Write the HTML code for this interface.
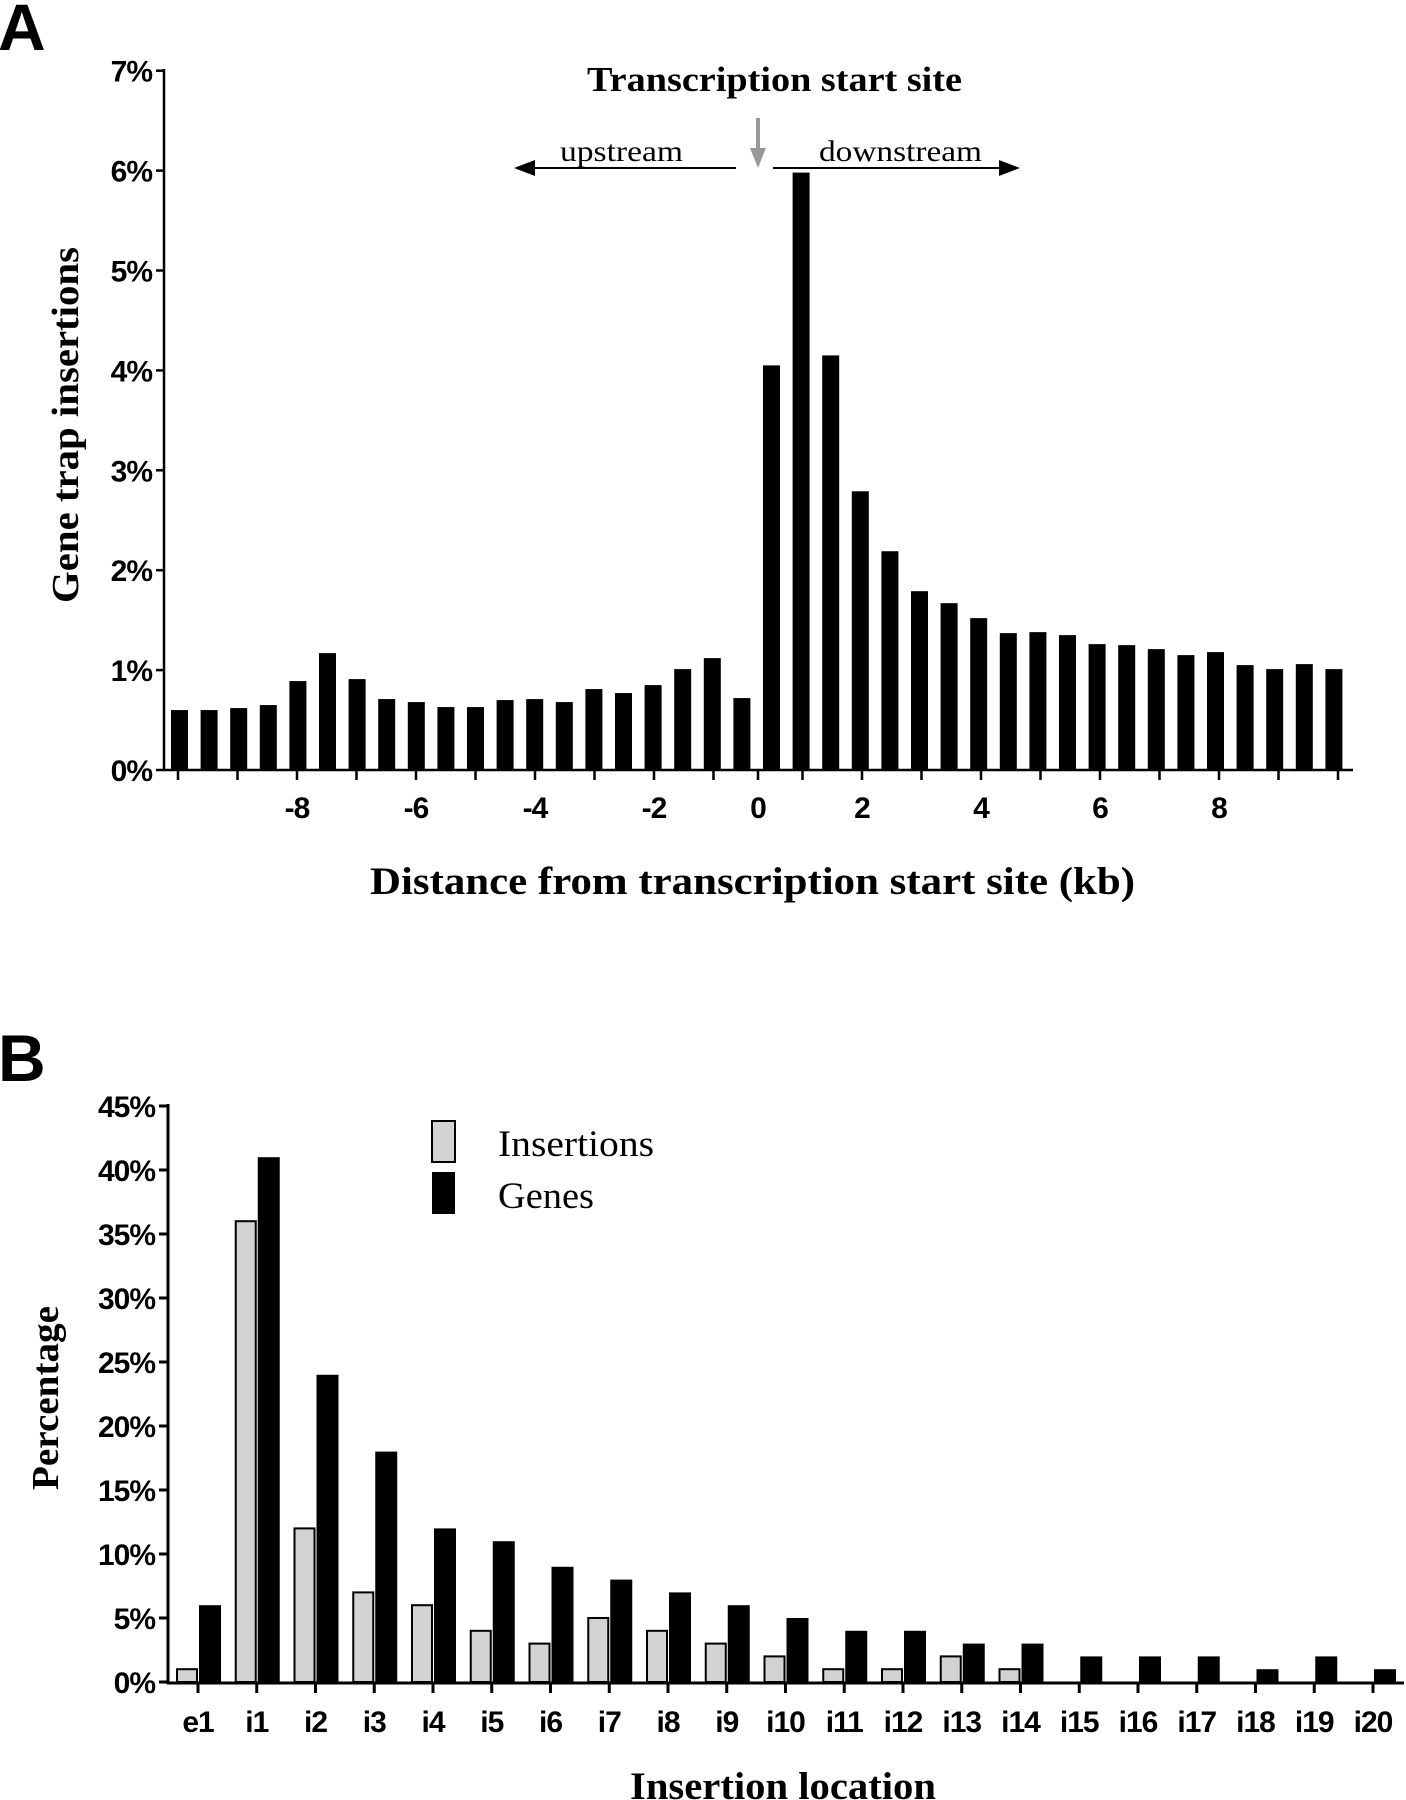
<!DOCTYPE html>
<html><head><meta charset="utf-8"><style>
html,body{margin:0;padding:0;background:#fff;}
svg{display:block;}
.tk{font-family:"Liberation Sans",sans-serif;font-weight:bold;font-size:30px;letter-spacing:-1px;}
.ser{font-family:"Liberation Serif",serif;}
</style></head><body>
<svg id="svg" width="1406" height="1800" viewBox="0 0 1406 1800">
<text x="-2" y="50" font-family="Liberation Sans,sans-serif" font-weight="bold" font-size="66">A</text>
<text x="-2" y="1081" font-family="Liberation Sans,sans-serif" font-weight="bold" font-size="66">B</text>
<g id="chartA"></g>
<g id="chartB"></g>
<text class="ser" x="587" y="91" textLength="375" lengthAdjust="spacingAndGlyphs" font-weight="bold" font-size="35">Transcription start site</text>
<text class="ser" x="560" y="161" textLength="123" lengthAdjust="spacingAndGlyphs" font-size="30">upstream</text>
<text class="ser" x="819" y="161" textLength="163" lengthAdjust="spacingAndGlyphs" font-size="30">downstream</text>
<g><line x1="736" y1="168" x2="530" y2="168" stroke="#000" stroke-width="2"/><polygon points="514,168 535,160 535,176" fill="#000"/></g>
<g><line x1="773" y1="168" x2="1000" y2="168" stroke="#000" stroke-width="2"/><polygon points="1020,168 999,160 999,176" fill="#000"/></g>
<g><line x1="758" y1="118" x2="758" y2="152" stroke="#999" stroke-width="4"/><polygon points="750,148 766,148 758,168" fill="#999"/></g>
<text class="ser" transform="translate(78,425) rotate(-90)" x="-178" textLength="356" lengthAdjust="spacingAndGlyphs" font-weight="bold" font-size="38">Gene trap insertions</text>
<text class="ser" x="370" y="894" textLength="765" lengthAdjust="spacingAndGlyphs" font-weight="bold" font-size="39">Distance from transcription start site (kb)</text>
<text class="ser" transform="translate(58,1398) rotate(-90)" x="-92" textLength="184" lengthAdjust="spacingAndGlyphs" font-weight="bold" font-size="38">Percentage</text>
<text class="ser" x="630" y="1799" textLength="306" lengthAdjust="spacingAndGlyphs" font-weight="bold" font-size="39">Insertion location</text>
<g>
<rect x="432" y="1121" width="23" height="41" fill="#d3d3d3" stroke="#000" stroke-width="2"/>
<rect x="432" y="1172" width="23" height="42" fill="#000"/>
<text class="ser" x="498" y="1156" textLength="156" lengthAdjust="spacingAndGlyphs" font-size="37">Insertions</text>
<text class="ser" x="498" y="1208" textLength="96" lengthAdjust="spacingAndGlyphs" font-size="37">Genes</text>
</g>
</svg>
<script>
const aValues=[0.6,0.6,0.62,0.65,0.89,1.17,0.91,0.71,0.68,0.63,0.63,0.70,0.71,0.68,0.81,0.77,0.85,1.01,1.12,0.72,4.05,5.98,4.15,2.79,2.19,1.79,1.67,1.52,1.37,1.38,1.35,1.26,1.25,1.21,1.15,1.18,1.05,1.01,1.06,1.01];
const aYTicks=[0,1,2,3,4,5,6,7];
const aXTicks=[-10,-9,-8,-7,-6,-5,-4,-3,-2,-1,0,1,2,3,4,5,6,7,8,9,10];
const aXLabels=[-8,-6,-4,-2,0,2,4,6,8];
const bCats=["e1","i1","i2","i3","i4","i5","i6","i7","i8","i9","i10","i11","i12","i13","i14","i15","i16","i17","i18","i19","i20"];
const bInsertions=[1,36,12,7,6,4,3,5,4,3,2,1,1,2,1,0,0,0,0,0,0];
const bGenes=[6,41,24,18,12,11,9,8,7,6,5,4,4,3,3,2,2,2,1,2,1];
const bYTicks=[0,5,10,15,20,25,30,35,40,45];
const NS="http://www.w3.org/2000/svg";
function mk(parent,tag,attrs){const e=document.createElementNS(NS,tag);for(const k in attrs)e.setAttribute(k,attrs[k]);parent.appendChild(e);return e;}
const gA=document.getElementById('chartA');
const ayA=v=>770-v*99.9;
const bxA=i=>179.5+i*29.6;
const kxA=k=>k===0?758:758+Math.sign(k)*(59.5*Math.abs(k)-15);
aValues.forEach((v,i)=>{const r=mk(gA,'rect',{x:bxA(i)-8.5,y:ayA(v),width:17,height:770-ayA(v),fill:'#000'});

});
mk(gA,'line',{x1:164,y1:69,x2:164,y2:771,stroke:'#000','stroke-width':2.5});
mk(gA,'line',{x1:163,y1:770,x2:1353,y2:770,stroke:'#000','stroke-width':2.5});
aYTicks.forEach(t=>{mk(gA,'line',{x1:156,y1:ayA(t),x2:164,y2:ayA(t),stroke:'#000','stroke-width':2.5});
const tx=mk(gA,'text',{x:152,y:ayA(t)+11,'text-anchor':'end',class:'tk'});tx.textContent=t+'%';

});
aXTicks.forEach(k=>{mk(gA,'line',{x1:kxA(k),y1:770,x2:kxA(k),y2:780,stroke:'#000','stroke-width':2.5});});
aXLabels.forEach(k=>{const tx=mk(gA,'text',{x:kxA(k),y:818,'text-anchor':'middle',class:'tk'});tx.textContent=String(k);

});
const gB=document.getElementById('chartB');
const ayB=v=>1682-v*12.8;
const cxB=i=>198+i*58.75;
bCats.forEach((c,i)=>{
const v1=bInsertions[i];
if(v1>0){const r=mk(gB,'rect',{x:cxB(i)-21,y:ayB(v1),width:20,height:1682-ayB(v1),fill:'#d3d3d3',stroke:'#000','stroke-width':2});

}
const v2=bGenes[i];
const r2=mk(gB,'rect',{x:cxB(i)+1,y:ayB(v2),width:22,height:1682-ayB(v2),fill:'#000'});


mk(gB,'line',{x1:cxB(i),y1:1682,x2:cxB(i),y2:1693,stroke:'#000','stroke-width':3});
const tx=mk(gB,'text',{x:cxB(i),y:1732,'text-anchor':'middle',class:'tk'});tx.textContent=c;

});
mk(gB,'line',{x1:168,y1:1104,x2:168,y2:1684,stroke:'#000','stroke-width':3});
mk(gB,'line',{x1:167,y1:1683,x2:1404,y2:1683,stroke:'#000','stroke-width':3});
bYTicks.forEach(t=>{mk(gB,'line',{x1:159,y1:ayB(t),x2:168,y2:ayB(t),stroke:'#000','stroke-width':3});
const tx=mk(gB,'text',{x:155,y:ayB(t)+11,'text-anchor':'end',class:'tk'});tx.textContent=t+'%';

});
</script>
</body></html>
